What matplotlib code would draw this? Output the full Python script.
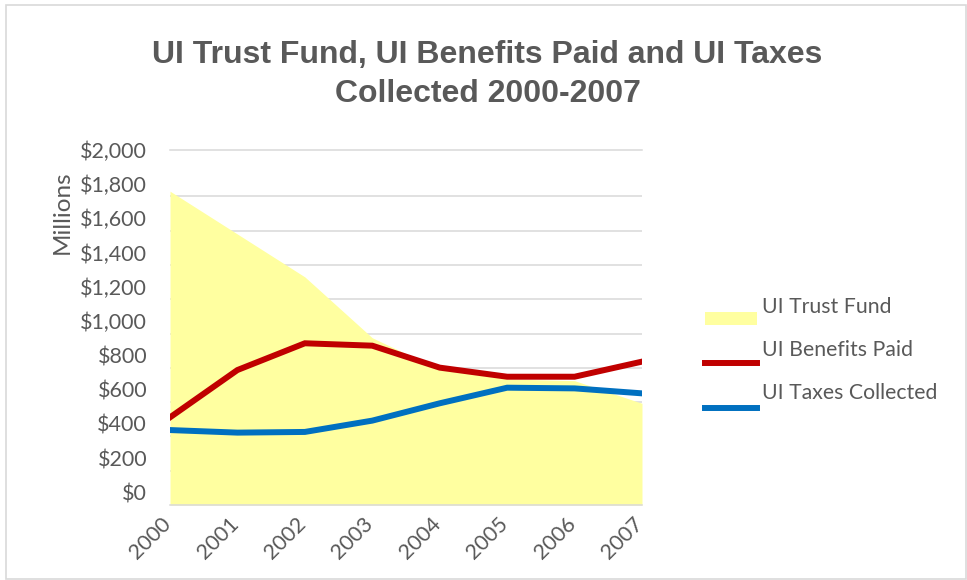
import matplotlib
matplotlib.use("Agg")
import matplotlib.pyplot as plt
from matplotlib.transforms import ScaledTranslation
from matplotlib.patches import Rectangle
from matplotlib.lines import Line2D
from matplotlib.ticker import FuncFormatter

# Annual figures, millions of dollars
years = [2000, 2001, 2002, 2003, 2004, 2005, 2006, 2007]
trust_fund = [1830, 1580, 1330, 975, 790, 735, 725, 593]
benefits_paid = [511, 787, 943, 929, 801, 748, 748, 836]
taxes_collected = [437, 422, 426, 492, 593, 684, 680, 651]
y_ticks = [0, 200, 400, 600, 800, 1000, 1200, 1400, 1600, 1800, 2000]
series_names = ["UI Trust Fund", "UI Benefits Paid", "UI Taxes Collected"]
title = "UI Trust Fund, UI Benefits Paid and UI Taxes\nCollected 2000-2007"

plt.rcParams["font.family"] = ["Lato", "DejaVu Sans"]

TEXT = "#595959"
GRID = "#D9D9D9"
YELLOW = "#FFFFA0"
RED = "#C00000"
BLUE = "#0070C0"

W, H, DPI = 967, 580, 100
fig = plt.figure(figsize=(W / DPI, H / DPI), dpi=DPI)

def px_axes(left, top, right, bottom):
    return [left / W, 1 - bottom / H, (right - left) / W, (bottom - top) / H]

ax = fig.add_axes(px_axes(170, 150, 642, 505))
ax.set_axisbelow(True)

ax.fill_between(years, 0, trust_fund, color=YELLOW, lw=0, zorder=1)
ax.plot(years, taxes_collected, color=BLUE, lw=4.3, solid_joinstyle="miter", zorder=3)
ax.plot(years, benefits_paid, color=RED, lw=4.3, solid_joinstyle="miter", zorder=3)

ax.set_xlim(years[0], years[-1])
ax.set_ylim(0, 2070)
ax.set_xticks(years)
ax.set_yticks(y_ticks)
ax.yaxis.set_major_formatter(FuncFormatter(lambda v, p: f"${v:,.0f}"))

ax.grid(axis="y", color=GRID, lw=1.1)
ax.get_ygridlines()[-1].set_visible(False)
ax.get_ygridlines()[0].set_visible(False)

for side in ["left", "right"]:
    ax.spines[side].set_visible(False)
for side in ["top", "bottom"]:
    ax.spines[side].set_color(GRID)
    ax.spines[side].set_linewidth(1.1)

ax.tick_params(axis="both", length=0, colors=TEXT, labelsize=15.5)
ax.tick_params(axis="y", pad=16.5)
ax.tick_params(axis="x", pad=11)

shift_up = ScaledTranslation(0, 12.5 / DPI, fig.dpi_scale_trans)
for lab in ax.get_yticklabels():
    lab.set_transform(lab.get_transform() + shift_up)

x_shift = ScaledTranslation(-2 / DPI, 0, fig.dpi_scale_trans)
for lab in ax.get_xticklabels():
    lab.set_rotation(45)
    lab.set_ha("right")
    lab.set_va("center")
    lab.set_rotation_mode("anchor")
    lab.set_transform(lab.get_transform() + x_shift)

fig.text(62 / W, 1 - 212 / H, "Millions", rotation=90, ha="center", va="center",
         color=TEXT, fontsize=17.5)

fig.text(487.5 / W, 1 - 74.5 / H, title, ha="center", va="center", color=TEXT,
         fontsize=23, fontweight="bold", linespacing=1.4,
         family=["Liberation Sans Narrow", "Liberation Sans", "DejaVu Sans"])

# Legend built in figure pixels
def fx(x):
    return x / W

def fy(y):
    return 1 - y / H

fig.add_artist(Rectangle((fx(705), fy(325)), (757 - 705) / W, (325 - 311.7) / H,
                         transform=fig.transFigure, color=YELLOW, lw=0))
fig.add_artist(Line2D([fx(705), fx(757)], [fy(363.3), fy(363.3)],
                      transform=fig.transFigure, color=RED, lw=4.3))
fig.add_artist(Line2D([fx(705), fx(757)], [fy(408.3), fy(408.3)],
                      transform=fig.transFigure, color=BLUE, lw=4.3))
for name, yc in zip(series_names, [306.7, 350, 393.3]):
    fig.text(fx(762), fy(yc), name, ha="left", va="center", color=TEXT, fontsize=15.3)

fig.add_artist(Rectangle((fx(6), fy(579)), (966 - 6) / W, (579 - 5) / H,
                         transform=fig.transFigure, fill=False, edgecolor=GRID, lw=1.2))

fig.savefig("out.png", dpi=DPI)
